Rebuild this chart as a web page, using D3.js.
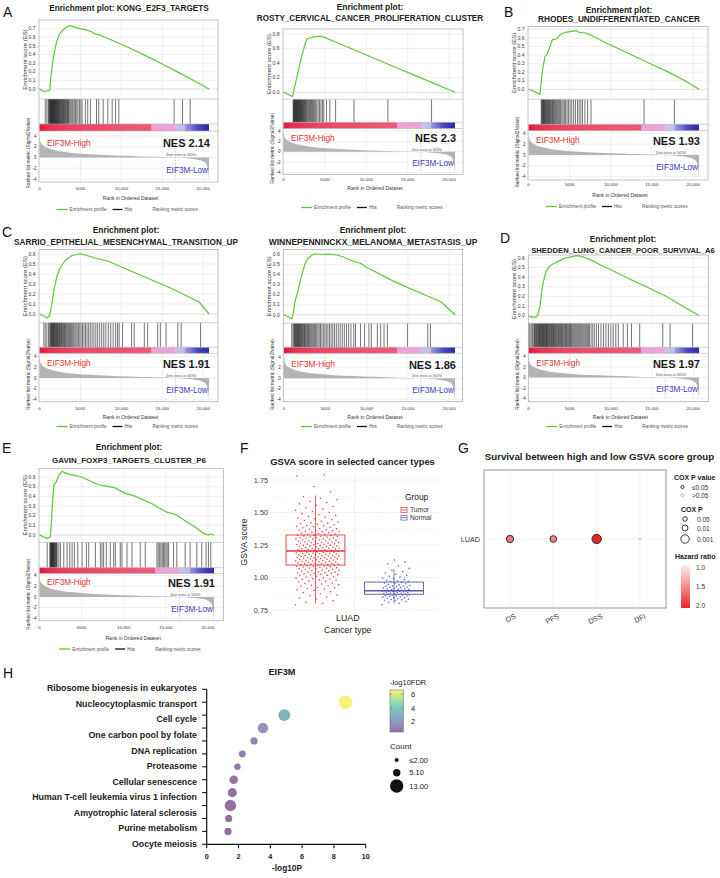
<!DOCTYPE html>
<html><head><meta charset="utf-8">
<script src="https://cdn.jsdelivr.net/npm/d3@7"></script>
<style>
html,body{margin:0;padding:0;background:#fff;}
svg{display:block;font-family:"Liberation Sans",Arial,Helvetica,sans-serif;}
</style></head><body>
<svg id="fig" width="720" height="878"></svg>
<script>
// ===================== DATA =====================
const N_GENES = 20700;
const ZERO_CROSS = 16590;
const metricRanks  = [0, 50, 150, 400, 800, 1500, 2500, 4000, 6000, 8500, 11000, 14000, 16590, 18000, 19300, 20000, 20400, 20600, 20700];
const metricValues = [4.3, 3.4, 2.8, 2.3, 1.9, 1.5, 1.15, 0.85, 0.6, 0.42, 0.28, 0.12, 0, -0.15, -0.4, -0.7, -1.3, -2.5, -4.3];
const barFractions = [0, 0.06, 0.2, 0.66, 0.661, 0.8, 0.801, 0.86, 0.861, 0.9, 0.93, 1];
const barColors = ["#e3163a", "#e73150", "#ea4566", "#ef5a78", "#eea0d6", "#eaa6dc", "#ccc4ec", "#c0bae8", "#9a96e0", "#7070d0", "#4a4ac0", "#2a2aa8"];
const xTickValues = [0, 5000, 10000, 15000, 20000];
const xTickLabels = ["0", "5000", "10,000", "15,000", "20,000"];
const metricTicks = [4, 2, 0, -2, -4];

const gseaNames = ["KONG_E2F3_TARGETS", "ROSTY_CERVICAL_CANCER_PROLIFERATION_CLUSTER", "RHODES_UNDIFFERENTIATED_CANCER",
  "SARRIO_EPITHELIAL_MESENCHYMAL_TRANSITION_UP", "WINNEPENNINCKX_MELANOMA_METASTASIS_UP", "SHEDDEN_LUNG_CANCER_POOR_SURVIVAL_A6",
  "GAVIN_FOXP3_TARGETS_CLUSTER_P6"];
const gseaNES = ["2.14", "2.3", "1.93", "1.91", "1.86", "1.97", "1.91"];
const esTickMax = [0.7, 0.8, 0.7, 0.6, 0.6, 0.6, 0.6];
const esTickStep = [0.1, 0.2, 0.1, 0.1, 0.1, 0.1, 0.1];

const esKONG = [[0,0],[500,-0.03],[1000,-0.02],[1250,-0.015],[1400,0.15],[1600,0.3],[1800,0.42],[2100,0.55],[2400,0.63],[2800,0.68],[3200,0.71],[3600,0.735],[4000,0.73],[4500,0.71],[5000,0.70],[5600,0.69],[6200,0.67],[6800,0.64],[7400,0.625],[8000,0.6],[9000,0.56],[10000,0.52],[11000,0.475],[13000,0.385],[15000,0.29],[17000,0.19],[19000,0.09],[20700,0]];
const esROSTY = [[0,0],[600,-0.03],[1100,-0.06],[1300,0.05],[1600,0.2],[1900,0.35],[2200,0.5],[2500,0.62],[2800,0.73],[3200,0.745],[3700,0.76],[4200,0.77],[4800,0.76],[6000,0.703],[8000,0.607],[10000,0.511],[12000,0.416],[14000,0.32],[16000,0.225],[18000,0.13],[20700,0]];
const esRHODES = [[0,0],[800,-0.03],[1400,-0.06],[1500,0.05],[1700,0.22],[2000,0.38],[2300,0.42],[2600,0.5],[2900,0.58],[3400,0.59],[3900,0.64],[4500,0.665],[5200,0.675],[5800,0.685],[6100,0.665],[6600,0.66],[7000,0.655],[7600,0.63],[9000,0.56],[11000,0.47],[13000,0.38],[15000,0.29],[17000,0.2],[19000,0.1],[20700,0]];
const esSARRIO = [[0,0],[500,-0.02],[900,-0.04],[1200,-0.02],[1400,0.05],[1600,0.15],[1800,0.25],[2100,0.37],[2500,0.46],[3000,0.52],[3500,0.56],[4000,0.585],[4800,0.6],[5200,0.598],[6000,0.58],[7000,0.555],[7800,0.54],[8500,0.525],[10000,0.47],[12000,0.4],[14000,0.33],[16000,0.26],[18000,0.18],[19500,0.12],[20700,0]];
const esWINNE = [[0,0],[500,-0.02],[950,-0.04],[1100,0],[1300,0.12],[1500,0.18],[1750,0.25],[2000,0.35],[2300,0.44],[2600,0.52],[2900,0.56],[3300,0.59],[3700,0.607],[4500,0.6],[5500,0.603],[6400,0.595],[7200,0.575],[8000,0.545],[9300,0.51],[10000,0.47],[11000,0.43],[13000,0.345],[15000,0.27],[17000,0.2],[19000,0.13],[20700,0]];
const esSHEDDEN = [[0,-0.01],[600,-0.02],[1000,-0.015],[1200,0.02],[1400,0.1],[1600,0.25],[1800,0.35],[2100,0.45],[2500,0.51],[3000,0.54],[3500,0.56],[4000,0.58],[4500,0.6],[5000,0.61],[5800,0.625],[6300,0.62],[7000,0.6],[7800,0.57],[8700,0.53],[10300,0.465],[12300,0.38],[14300,0.3],[16700,0.2],[18700,0.1],[20700,0]];
const esGAVIN = [[0,0],[500,-0.02],[900,-0.035],[1300,-0.02],[1450,0.2],[1550,0.35],[1700,0.52],[2000,0.55],[2300,0.62],[2700,0.66],[3000,0.645],[3400,0.63],[4000,0.62],[5000,0.6],[5500,0.58],[6200,0.55],[7000,0.52],[7500,0.51],[8900,0.49],[10200,0.43],[11400,0.4],[13400,0.32],[15000,0.24],[16200,0.21],[17400,0.14],[18500,0.08],[19400,0.02],[20000,0],[20300,0.01],[20700,0]];

const hitsKONG = [700,900,1080,1150,1220,1300,1340,1390,1450,1500,1540,1600,1650,1690,1740,1800,1850,1900,1960,2010,2080,2130,2200,2260,2310,2380,2450,2520,2590,2650,2730,2800,2880,2950,3020,3100,3190,3260,3350,3430,3520,3600,3720,3850,3980,4100,4250,4400,4550,4700,4880,5050,5200,5600,5890,6220,6960,7240,7780,8340,8880,9290,9690,16440,17470,18400];
const hitsROSTY = [1160,1220,1280,1330,1390,1440,1500,1560,1610,1670,1720,1780,1840,1900,1950,2010,2070,2130,2190,2250,2320,2380,2450,2520,2600,2680,2760,2850,2950,3050,3150,3260,3380,3500,3620,3750,3880,4020,4180,4350,4520,4700,4860,5180,5590,6290,8510,12600,17870];
const hitsRHODES = [1550,1620,1680,1750,1820,1880,1950,2020,2100,2170,2250,2330,2400,2480,2560,2650,2740,2830,2920,3010,3100,3200,3300,3420,3540,3660,3780,3900,4050,4200,4350,4500,4680,4850,5050,5250,5480,5700,5950,6150,6360,6560,6850,7180,7590,14030,17710];
const hitsSARRIO = [530,700,900,1100,1250,1330,1400,1470,1540,1600,1660,1720,1790,1850,1920,1990,2060,2130,2200,2280,2360,2440,2520,2600,2690,2780,2870,2960,3050,3150,3250,3350,3460,3570,3680,3800,3920,4050,4180,4320,4460,4600,4760,4920,5080,5250,5430,5620,5800,6000,6200,6420,6650,6880,7100,7350,7600,7850,8100,8400,8700,9000,9300,9530,9730,10150,11250,11570,12800,13210,14440,14760,15460,16890,17300,19670];
const hitsWINNE = [940,1100,1200,1280,1350,1420,1490,1560,1630,1700,1770,1840,1910,1980,2060,2140,2220,2300,2390,2480,2570,2660,2760,2860,2960,3070,3180,3300,3420,3550,3680,3820,3960,4110,4260,4420,4590,4760,4940,5120,5310,5500,5700,5900,6110,6330,6560,6800,7050,7300,7560,7820,8100,8450,8660,9270,9760,10280,10570,11300,11700,12110,12520,14960,17400,17720];
const hitsSHEDDEN = [40,180,330,480,640,720,800,880,960,1040,1120,1200,1270,1340,1410,1480,1550,1620,1690,1760,1830,1900,1970,2040,2110,2180,2250,2320,2400,2480,2560,2640,2720,2800,2880,2960,3040,3120,3200,3290,3380,3470,3560,3650,3740,3830,3920,4010,4100,4200,4300,4400,4500,4600,4700,4800,4900,5000,5100,5200,5300,5420,5540,5660,5780,5900,6020,6140,6260,6380,6500,6620,6750,6880,7010,7140,7270,7400,7600,7800,8000,8250,8500,8800,9100,9400,9700,10000,10280,10600,10900,11500,12000,12500,13500,16300,17190,19920];
const hitsGAVIN = [910,1220,1300,1350,1400,1450,1500,1550,1600,1650,1700,1760,1820,1880,1950,2020,2090,2290,2480,2880,3270,3590,3870,4140,4540,5050,5560,5840,6630,7220,7420,7610,7930,8400,8800,9000,9580,9780,10380,10970,11950,12550,13930,14080,14250,14400,14560,14700,14850,15000,15150,15310,15900,16290,17280,17870,18660,19250,19760,20040,20320];

const esCurves = [esKONG, esROSTY, esRHODES, esSARRIO, esWINNE, esSHEDDEN, esGAVIN];
const hitLists = [hitsKONG, hitsROSTY, hitsRHODES, hitsSARRIO, hitsWINNE, hitsSHEDDEN, hitsGAVIN];

// Panel F
const fGroups = ["Tumor", "Normal"];
const fCategory = "LUAD";
const fYTicks = [0.75, 1.00, 1.25, 1.50, 1.75];
const tumorBox = [0.80, 1.096, 1.204, 1.327, 1.63];
const normalBox = [0.80, 0.871, 0.899, 0.965, 1.063];
const tumorScores = [0.79,0.80,0.81,0.82,0.835,0.84,0.85,0.86,0.865,0.875,0.885,0.89,0.90,0.905,0.91,0.915,0.92,0.925,
0.932,0.936,0.94,0.945,0.95,0.953,0.957,0.96,0.965,0.97,0.974,0.978,
0.982,0.985,0.988,0.991,0.995,0.998,1.002,1.006,1.01,1.013,1.016,1.019,1.022,1.025,1.028,
1.031,1.033,1.036,1.038,1.041,1.043,1.046,1.048,1.051,1.053,1.056,1.058,1.061,1.063,1.066,1.068,1.071,1.073,1.076,1.078,
1.081,1.083,1.085,1.087,1.089,1.091,1.093,1.095,1.097,1.099,1.101,1.103,1.105,1.107,1.109,1.111,1.113,1.115,1.117,1.119,1.121,1.123,1.125,1.127,1.129,
1.131,1.133,1.135,1.136,1.138,1.140,1.142,1.143,1.145,1.147,1.149,1.150,1.152,1.154,1.156,1.157,1.159,1.161,1.163,1.164,1.166,1.168,1.170,1.171,1.173,1.175,1.177,1.179,
1.181,1.183,1.185,1.186,1.188,1.190,1.192,1.193,1.195,1.197,1.199,1.200,1.202,1.204,1.206,1.207,1.209,1.211,1.213,1.214,1.216,1.218,1.220,1.221,1.223,1.225,1.227,1.229,
1.231,1.233,1.235,1.237,1.239,1.241,1.243,1.245,1.247,1.249,1.251,1.253,1.255,1.257,1.259,1.261,1.263,1.265,1.267,1.269,1.271,1.273,1.275,1.277,1.279,
1.281,1.283,1.286,1.288,1.290,1.292,1.295,1.297,1.299,1.302,1.304,1.306,1.308,1.311,1.313,1.315,1.317,1.320,1.322,1.324,1.326,1.329,
1.332,1.335,1.338,1.341,1.344,1.347,1.350,1.353,1.356,1.359,1.362,1.365,1.368,1.371,1.374,1.377,
1.382,1.386,1.390,1.394,1.398,1.402,1.406,1.410,1.414,1.418,1.422,1.427,
1.433,1.439,1.445,1.451,1.457,1.463,1.469,1.476,1.485,1.493,1.501,1.509,1.517,1.526,
1.536,1.546,1.556,1.566,1.576,1.587,1.598,1.609,1.621,1.66,1.70,1.78,1.79];
const normalScores = [0.79,0.80,0.81,0.815,
0.822,0.825,0.828,0.831,0.834,0.837,0.840,0.843,0.846,0.849,0.852,0.855,0.857,0.859,
0.861,0.863,0.865,0.867,0.869,0.871,0.873,0.875,0.877,0.879,0.881,0.883,0.885,0.887,0.889,0.891,0.893,0.894,0.895,0.896,0.898,0.899,
0.902,0.905,0.907,0.910,0.912,0.915,0.917,0.920,0.922,0.925,0.927,0.930,0.932,0.935,0.937,0.939,
0.943,0.947,0.951,0.955,0.959,0.963,0.967,0.971,0.975,0.979,
0.984,0.990,0.996,1.003,1.009,1.016,1.025,1.035,1.045,1.055,1.07,1.09,1.105,1.12,1.135];

// Panel G
const gEndpoints = ["OS", "PFS", "DSS", "DFI"];
const gCancer = ["LUAD"];
const gHazard = [1.6, 1.55, 2.0, 1.15];
const gCoxP = [0.003, 0.005, 0.0004, 0.5];
const gSizeLegend = [0.05, 0.01, 0.001];
const gHazardTicks = [1.0, 1.5, 2.0];

// Panel H
const hPathways = ["Ribosome biogenesis in eukaryotes","Nucleocytoplasmic transport","Cell cycle","One carbon pool by folate","DNA replication","Proteasome","Cellular senescence","Human T-cell leukemia virus 1 infection","Amyotrophic lateral sclerosis","Purine metabolism","Oocyte meiosis"];
const hLogP = [8.74, 4.88, 3.54, 2.98, 2.24, 1.93, 1.70, 1.61, 1.49, 1.38, 1.34];
const hLogFDR = [6.5, 3.0, 1.7, 1.3, 1.05, 0.95, 0.75, 0.72, 0.68, 0.62, 0.6];
const hCount = [13, 11, 9, 5, 4.6, 4.2, 6.7, 7.3, 10.4, 5, 5];
const hXTicks = [0, 2, 4, 6, 8, 10];
const hColorTicks = [6, 4, 2];
const hCountLegend = [2, 5.1, 13];
const hCountLabels = ["\u22642.00", "5.10", "13.00"];

// ===================== LAYOUT =====================
const gseaLayout = [
 {left:39, right:218, top:20, cx:129, ty:[10.5], tw:160, esTop:28.7, es0:89, sep1:99, barTop:124, barBot:131, mTop:136, mBot:179, bottom:182, tickY:190, axY:200, legY:211, x0:39.5, xEnd:209},
 {left:283, right:463, top:29, cx:370, ty:[10,20.5], tw:227, esTop:34, es0:92.3, sep1:99.3, barTop:122.3, barBot:128.5, mTop:131, mBot:172.7, bottom:174.5, tickY:180.5, axY:190, legY:209, x0:283.5, xEnd:455},
 {left:528, right:708, top:26.5, cx:619, ty:[12.5,22], tw:162, esTop:29.3, es0:89.3, sep1:99.3, barTop:124.3, barBot:130.7, mTop:133.3, mBot:176.7, bottom:180, tickY:185.5, axY:196.5, legY:208, x0:528.5, xEnd:699},
 {left:39, right:218, top:249.5, cx:126, ty:[233,245], tw:224, esTop:254, es0:314, sep1:322.7, barTop:347.3, barBot:353.3, mTop:356.7, mBot:399.3, bottom:401.7, tickY:409.5, axY:418.5, legY:428, x0:39.5, xEnd:209},
 {left:283.3, right:462.7, top:249.5, cx:373, ty:[233,245], tw:209, esTop:254.5, es0:314.8, sep1:323.3, barTop:347.3, barBot:353.3, mTop:357.3, mBot:399.3, bottom:401.7, tickY:409.5, axY:418.5, legY:428, x0:284, xEnd:455},
 {left:528.3, right:708.3, top:255, cx:623, ty:[241.5,253], tw:184, esTop:258, es0:315.5, sep1:323.3, barTop:347.3, barBot:353.3, mTop:356.7, mBot:398.3, bottom:401.7, tickY:409.5, axY:419, legY:428, x0:528.5, xEnd:699},
 {left:39, right:223.3, top:468.3, cx:129, ty:[450,463], tw:154, esTop:477, es0:535, sep1:542.3, barTop:567.7, barBot:573.5, mTop:575.5, mBot:618.3, bottom:620.7, tickY:628.5, axY:639.5, legY:650.5, x0:39.5, xEnd:214}
];

const svg = d3.select("#fig");
svg.append("rect").attr("width", 720).attr("height", 878).attr("fill", "#fff");
const defs = svg.append("defs");

function T(g, x, y, s, size, o = {}) {
  const t = g.append("text").attr("x", x).attr("y", y).text(s)
    .attr("font-size", size).attr("fill", o.fill || "#222")
    .attr("text-anchor", o.anchor || "start")
    .attr("font-weight", o.weight || "normal");
  if (o.rotate) t.attr("transform", `rotate(${o.rotate},${x},${y})`);
  return t;
}
// scale a text's font size so that its rendered width matches a target width
function fitWidth(t, target) {
  const w = t.node().getComputedTextLength();
  if (w > 0) t.attr("font-size", (+t.attr("font-size")) * target / w);
  return t;
}

// panel letters
[["A",3,17],["B",504,17],["C",2,237],["D",500,243],["E",2,453],["F",240,453],["G",458,453],["H",3,678]]
  .forEach(([s,x,y]) => T(svg, x, y, s, 14, {fill:"#111"}));

// ===================== GSEA PANELS =====================
function drawGSEA(i) {
  const L = gseaLayout[i];
  const g = svg.append("g");
  const x = d3.scaleLinear().domain([0, N_GENES]).range([L.x0, L.xEnd]);
  const yE = d3.scaleLinear().domain([0, esTickMax[i]]).range([L.es0, L.esTop]);
  const yM = d3.scaleLinear().domain([-4, 4]).range([L.mBot, L.mTop]);
  const name = gseaNames[i];
  if (L.ty.length === 1) {
    fitWidth(T(g, L.cx, L.ty[0], "Enrichment plot: " + name, 8, {anchor:"middle", weight:"bold"}), L.tw);
  } else {
    T(g, L.cx, L.ty[0], "Enrichment plot:", 8.4, {anchor:"middle", weight:"bold"});
    fitWidth(T(g, L.cx, L.ty[1], name, 8, {anchor:"middle", weight:"bold"}), L.tw);
  }
  g.append("rect").attr("x", L.left).attr("y", L.top).attr("width", L.right - L.left)
    .attr("height", L.bottom - L.top).attr("fill", "#fff");
  const grid = "#e6e6e6";
  const esTicks = d3.range(0, esTickMax[i] + 1e-9, esTickStep[i]);
  g.selectAll(null).data(xTickValues.slice(1)).join("line")
    .attr("x1", d => x(d)).attr("x2", d => x(d)).attr("y1", L.top).attr("y2", L.sep1)
    .attr("stroke", grid).attr("stroke-width", 0.6);
  g.selectAll(null).data(esTicks).join("line")
    .attr("x1", L.left).attr("x2", L.right).attr("y1", d => yE(d)).attr("y2", d => yE(d))
    .attr("stroke", d => d === 0 ? "#c8c8c8" : grid).attr("stroke-width", 0.6);
  g.selectAll(null).data(xTickValues.slice(1)).join("line")
    .attr("x1", d => x(d)).attr("x2", d => x(d)).attr("y1", L.barBot).attr("y2", L.bottom)
    .attr("stroke", grid).attr("stroke-width", 0.6);
  g.selectAll(null).data(metricTicks).join("line")
    .attr("x1", L.left).attr("x2", L.right).attr("y1", d => yM(d)).attr("y2", d => yM(d))
    .attr("stroke", grid).attr("stroke-width", 0.6);
  const mPts = metricRanks.map((r, k) => [r, metricValues[k]]);
  g.append("path").datum(mPts)
    .attr("d", d3.area().x(d => x(d[0])).y0(yM(0)).y1(d => yM(Math.max(-4.2, Math.min(4.2, d[1])))).curve(d3.curveMonotoneX))
    .attr("fill", "#b4b4b4");
  g.append("line").attr("x1", x(ZERO_CROSS)).attr("x2", x(ZERO_CROSS)).attr("y1", L.mTop + 6).attr("y2", L.mBot)
    .attr("stroke", "#999").attr("stroke-width", 0.5).attr("stroke-dasharray", "1.5,1.5");
  T(g, x(ZERO_CROSS + 700), yM(0) - 1.3, "Zero cross at " + ZERO_CROSS, 3.4, {anchor:"middle", fill:"#555"});
  g.selectAll(null).data(hitLists[i]).join("line")
    .attr("x1", d => x(d)).attr("x2", d => x(d)).attr("y1", L.sep1).attr("y2", L.barTop)
    .attr("stroke", "#000").attr("stroke-width", 0.75).attr("stroke-opacity", 0.72);
  const gid = "gseabar" + i;
  const lg = defs.append("linearGradient").attr("id", gid).attr("gradientUnits", "userSpaceOnUse")
    .attr("x1", L.x0).attr("x2", L.xEnd).attr("y1", 0).attr("y2", 0);
  barFractions.forEach((f, k) => lg.append("stop").attr("offset", f).attr("stop-color", barColors[k]));
  g.append("rect").attr("x", L.x0).attr("y", L.barTop).attr("width", L.xEnd - L.x0)
    .attr("height", L.barBot - L.barTop).attr("fill", `url(#${gid})`);
  [L.sep1, L.barTop, L.barBot].forEach(yy => g.append("line").attr("x1", L.left).attr("x2", L.right)
    .attr("y1", yy).attr("y2", yy).attr("stroke", "#b0b0b0").attr("stroke-width", 0.6));
  g.append("path").datum(esCurves[i])
    .attr("d", d3.line().x(d => x(d[0])).y(d => yE(d[1])))
    .attr("fill", "none").attr("stroke", "#5ec832").attr("stroke-width", 1.2).attr("stroke-linejoin", "round");
  g.append("rect").attr("x", L.left).attr("y", L.top).attr("width", L.right - L.left)
    .attr("height", L.bottom - L.top).attr("fill", "none").attr("stroke", "#a8a8a8").attr("stroke-width", 0.7);
  T(g, L.left + 8, L.mTop + 9.5, "EIF3M-High", 8.2, {fill:"#dc3232"});
  T(g, L.xEnd + 1, L.mTop + 11.3, "NES " + gseaNES[i], 11, {anchor:"end", weight:"bold", fill:"#1a1a1a"});
  T(g, L.xEnd - 1, L.mBot - 6.5, "EIF3M-Low", 8.2, {anchor:"end", fill:"#3c3cb4"});
  const fmt = d3.format(".1f");
  esTicks.forEach(v => T(g, L.left - 3.5, yE(v) + 1.7, fmt(v), 5, {anchor:"end", fill:"#333"}));
  metricTicks.forEach(v => T(g, L.left - 2.5, yM(v) + 1.6, String(v), 4.6, {anchor:"end", fill:"#333"}));
  xTickValues.forEach((v, k) => T(g, x(v), L.tickY, xTickLabels[k], 4.4, {anchor:"middle", fill:"#333"}));
  const esMid = (L.top + L.sep1) / 2;
  T(g, L.left - 12, esMid, "Enrichment score (ES)", 6, {anchor:"middle", rotate:-90, fill:"#333"});
  const mMid = (L.barTop + L.bottom) / 2;
  T(g, L.left - 9, mMid, "Ranked list metric (Signal2Noise)", 4.8, {anchor:"middle", rotate:-90, fill:"#333"});
  const cx = (L.left + L.right) / 2;
  T(g, cx + 2, L.axY, "Rank in Ordered Dataset", 5, {anchor:"middle", fill:"#333"});
  g.append("line").attr("x1", cx - 72).attr("x2", cx - 61).attr("y1", L.legY - 1.5).attr("y2", L.legY - 1.5)
    .attr("stroke", "#5ec832").attr("stroke-width", 1.3);
  T(g, cx - 59, L.legY, "Enrichment profile", 4.6, {fill:"#555"});
  g.append("line").attr("x1", cx - 16).attr("x2", cx - 6).attr("y1", L.legY - 1.5).attr("y2", L.legY - 1.5)
    .attr("stroke", "#111").attr("stroke-width", 1.3);
  T(g, cx - 4, L.legY, "Hits", 4.6, {fill:"#555"});
  T(g, cx + 24, L.legY, "Ranking metric scores", 4.6, {fill:"#555"});
}
for (let i = 0; i < 7; i++) drawGSEA(i);

// ===================== PANEL F =====================
(function () {
  const g = svg.append("g");
  const pl = 272, pr = 440, pt = 474, pb = 614;
  const y = d3.scaleLinear().domain([0.75, 1.75]).range([610, 480]);
  const fx = d3.scaleBand().domain(fGroups).range([276.25, 433.25]);
  const bw = fx.bandwidth();
  fitWidth(T(g, 352.5, 464.5, "GSVA score in selected cancer types", 9, {anchor:"middle", weight:"bold"}), 165);
  const minor = d3.range(0.875, 1.75, 0.25);
  g.selectAll(null).data(minor).join("line").attr("x1", pl).attr("x2", pr)
    .attr("y1", d => y(d)).attr("y2", d => y(d)).attr("stroke", "#e8e8e8").attr("stroke-width", 0.5).attr("stroke-dasharray", "1.5,1.5");
  g.selectAll(null).data(fYTicks).join("line").attr("x1", pl).attr("x2", pr)
    .attr("y1", d => y(d)).attr("y2", d => y(d)).attr("stroke", "#d6d6d6").attr("stroke-width", 0.6).attr("stroke-dasharray", "1.5,1.5");
  const catX = fx.range()[0] + bw;
  g.append("line").attr("x1", catX).attr("x2", catX).attr("y1", pt).attr("y2", pb)
    .attr("stroke", "#d6d6d6").attr("stroke-width", 0.6).attr("stroke-dasharray", "1.5,1.5");
  fYTicks.forEach(v => T(g, 268, y(v) + 2.5, d3.format(".2f")(v), 7.3, {anchor:"end", fill:"#444"}));
  T(g, 247, 542, "GSVA score", 8.8, {anchor:"middle", rotate:-90, fill:"#222"});
  T(g, catX - 7, 621, fCategory, 8.8, {anchor:"middle", fill:"#222"});
  T(g, catX - 7, 632.5, "Cancer type", 8.8, {anchor:"middle", fill:"#222"});
  const cols = {Tumor: "#e0393b", Normal: "#5a5a9e"};
  const ptCols = {Tumor: "#e8262a", Normal: "#4646c8"};
  const boxes = {Tumor: tumorBox, Normal: normalBox};
  const scores = {Tumor: tumorScores, Normal: normalScores};
  const jw = {Tumor: 44, Normal: 28};
  fGroups.forEach(grp => {
    const c = fx(grp) + bw / 2;
    const b = boxes[grp];
    const hw = bw * 0.375;
    g.append("line").attr("x1", c).attr("x2", c).attr("y1", y(b[0])).attr("y2", y(b[4]))
      .attr("stroke", cols[grp]).attr("stroke-width", 0.8);
    g.append("rect").attr("x", c - hw).attr("y", y(b[3])).attr("width", 2 * hw).attr("height", y(b[1]) - y(b[3]))
      .attr("fill", "none").attr("stroke", cols[grp]).attr("stroke-width", 0.9);
    g.append("line").attr("x1", c - hw).attr("x2", c + hw).attr("y1", y(b[2])).attr("y2", y(b[2]))
      .attr("stroke", cols[grp]).attr("stroke-width", 1.5);
    g.selectAll(null).data(scores[grp]).join("circle")
      .attr("cx", (d, k) => c + 2 + (((k * 0.6180339887) % 1) - 0.5) * jw[grp])
      .attr("cy", d => y(d)).attr("r", 0.8).attr("fill", ptCols[grp]).attr("fill-opacity", 0.85);
  });
  T(g, 405, 500, "Group", 8.4, {fill:"#222"});
  fGroups.forEach((grp, k) => {
    const yy = 510 + k * 7.7;
    g.append("rect").attr("x", 401).attr("y", yy - 2.4).attr("width", 6).attr("height", 4.8)
      .attr("fill", "none").attr("stroke", cols[grp]).attr("stroke-width", 0.7);
    g.append("line").attr("x1", 401).attr("x2", 407).attr("y1", yy).attr("y2", yy).attr("stroke", cols[grp]).attr("stroke-width", 0.7);
    T(g, 410, yy + 2.4, grp, 6.7, {fill:"#333"});
  });
})();

// ===================== PANEL G =====================
(function () {
  const g = svg.append("g");
  const fl = 484, fr = 666, ft = 470, fb = 608;
  fitWidth(T(g, 599.5, 460, "Survival between high and low GSVA score group", 9.5, {anchor:"middle", weight:"bold"}), 230);
  const x = d3.scalePoint().domain(gEndpoints).range([510, 640]);
  const y = d3.scaleBand().domain(gCancer).range([ft, fb]);
  const yc = y("LUAD") + y.bandwidth() / 2;
  const hz = d3.scaleLinear().domain([1, 2]).range(["#fdf0f0", "#e8262a"]).interpolate(d3.interpolateRgb);
  const rs = d3.scaleLinear().domain([1.3, 2, 3]).range([2.3, 3.0, 4.2]);
  g.append("rect").attr("x", fl).attr("y", ft).attr("width", fr - fl).attr("height", fb - ft).attr("fill", "#fff");
  gEndpoints.forEach(e => g.append("line").attr("x1", x(e)).attr("x2", x(e)).attr("y1", ft).attr("y2", fb)
    .attr("stroke", "#dcdcdc").attr("stroke-width", 0.6).attr("stroke-dasharray", "2,2"));
  g.append("line").attr("x1", fl).attr("x2", fr).attr("y1", yc).attr("y2", yc)
    .attr("stroke", "#dcdcdc").attr("stroke-width", 0.6).attr("stroke-dasharray", "2,2");
  g.append("rect").attr("x", fl).attr("y", ft).attr("width", fr - fl).attr("height", fb - ft)
    .attr("fill", "none").attr("stroke", "#8a8a8a").attr("stroke-width", 0.9);
  gEndpoints.forEach((e, k) => {
    const sig = gCoxP[k] <= 0.05;
    g.append("circle").attr("cx", x(e)).attr("cy", yc)
      .attr("r", sig ? rs(-Math.log10(gCoxP[k])) : 1.3)
      .attr("fill", hz(gHazard[k])).attr("fill-opacity", sig ? 1 : 0.8)
      .attr("stroke", sig ? "#222" : "#c8b0b0").attr("stroke-width", sig ? 0.9 : 0.4);
    g.append("text").attr("transform", `translate(${x(e) + 4},${613}) rotate(-25)`)
      .attr("text-anchor", "end").attr("dominant-baseline", "hanging").attr("font-size", 7.2).attr("fill", "#333").text(e);
  });
  T(g, 480, yc + 2.5, "LUAD", 7.2, {anchor:"end", fill:"#333"});
  T(g, 674, 480, "COX P value", 7, {weight:"bold", fill:"#222"});
  g.append("circle").attr("cx", 682.5).attr("cy", 487).attr("r", 1.6).attr("fill", "none").attr("stroke", "#222").attr("stroke-width", 0.9);
  T(g, 692, 489.5, "\u22640.05", 6.5, {fill:"#333"});
  g.append("circle").attr("cx", 682.5).attr("cy", 495).attr("r", 1.6).attr("fill", "none").attr("stroke", "#bbb").attr("stroke-width", 0.9);
  T(g, 692, 497.5, ">0.05", 6.5, {fill:"#333"});
  T(g, 681, 511.5, "COX P", 7, {weight:"bold", fill:"#222"});
  const ly = [519, 528, 539];
  gSizeLegend.forEach((p, k) => {
    g.append("circle").attr("cx", 685).attr("cy", ly[k]).attr("r", rs(-Math.log10(p))).attr("fill", "none").attr("stroke", "#222").attr("stroke-width", 0.9);
    T(g, 697, ly[k] + 2.5, String(p), 6.5, {fill:"#333"});
  });
  T(g, 675, 558.5, "Hazard ratio", 7, {weight:"bold", fill:"#222"});
  const hg = defs.append("linearGradient").attr("id", "hzgrad").attr("x1", 0).attr("x2", 0).attr("y1", 0).attr("y2", 1);
  hg.append("stop").attr("offset", 0).attr("stop-color", hz(1));
  hg.append("stop").attr("offset", 1).attr("stop-color", hz(2));
  g.append("rect").attr("x", 681).attr("y", 565).attr("width", 9).attr("height", 43).attr("fill", "url(#hzgrad)");
  const hy = d3.scaleLinear().domain([1, 2]).range([567, 605]);
  gHazardTicks.forEach(v => T(g, 696, hy(v) + 2.5, d3.format(".1f")(v), 6.5, {fill:"#333"}));
})();

// ===================== PANEL H =====================
(function () {
  const g = svg.append("g");
  const x = d3.scaleLinear().domain([0, 10]).range([206.7, 365.7]);
  const yTick = d3.scaleLinear().domain([0, 12]).range([689.3, 844.3]);
  const yLab = d3.scalePoint().domain(hPathways).range([688.3, 844]);
  const col = d3.scaleSequential(d3.interpolateViridis).domain([0.5, 6.6]);
  const rs = d3.scaleLinear().domain(hCountLegend).range([2, 3.7, 6.7]);
  T(g, 282, 675, "EIF3M", 9.2, {anchor:"middle", weight:"bold"});
  g.append("line").attr("x1", x(0)).attr("x2", x(0)).attr("y1", yTick(0)).attr("y2", yTick(12)).attr("stroke", "#111").attr("stroke-width", 1.2);
  g.append("line").attr("x1", x(0)).attr("x2", x(10)).attr("y1", yTick(12)).attr("y2", yTick(12)).attr("stroke", "#111").attr("stroke-width", 1.2);
  d3.range(0, 13).forEach(k => g.append("line").attr("x1", x(0) - 4.5).attr("x2", x(0)).attr("y1", yTick(k)).attr("y2", yTick(k)).attr("stroke", "#111").attr("stroke-width", 1.1));
  hXTicks.forEach(v => {
    g.append("line").attr("x1", x(v)).attr("x2", x(v)).attr("y1", yTick(12)).attr("y2", yTick(12) + 4).attr("stroke", "#111").attr("stroke-width", 1.1);
    T(g, x(v), 859, String(v), 7.3, {anchor:"middle", weight:"bold"});
  });
  T(g, 287, 871, "-log10P", 8.3, {anchor:"middle", weight:"bold"});
  hPathways.forEach(p => T(g, 197, yLab(p) + 3, p, 8.8, {anchor:"end", weight:"bold"}));
  hPathways.forEach((p, k) => {
    g.append("circle").attr("cx", x(hLogP[k])).attr("cy", yTick(k + 1)).attr("r", rs(hCount[k]))
      .attr("fill", col(hLogFDR[k])).attr("fill-opacity", 0.58);
  });
  T(g, 390, 684.5, "-log10FDR", 7.5, {fill:"#222"});
  const cg = defs.append("linearGradient").attr("id", "fdrgrad").attr("x1", 0).attr("x2", 0).attr("y1", 1).attr("y2", 0);
  d3.range(0, 1.0001, 0.1).forEach(f => cg.append("stop").attr("offset", f).attr("stop-color", d3.interpolateViridis(f)));
  g.append("rect").attr("x", 390).attr("y", 690).attr("width", 13.3).attr("height", 42).attr("fill", "url(#fdrgrad)").attr("fill-opacity", 0.58)
    .attr("stroke", "#777").attr("stroke-width", 0.6);
  const cy = d3.scaleLinear().domain([0.5, 6.6]).range([732, 690]);
  hColorTicks.forEach(v => {
    g.append("line").attr("x1", 401).attr("x2", 403.3).attr("y1", cy(v)).attr("y2", cy(v)).attr("stroke", "#666").attr("stroke-width", 0.5);
    g.append("line").attr("x1", 390).attr("x2", 392.3).attr("y1", cy(v)).attr("y2", cy(v)).attr("stroke", "#666").attr("stroke-width", 0.5);
    T(g, 411, cy(v) + 2.6, String(v), 7.5, {fill:"#222"});
  });
  T(g, 390, 748.5, "Count", 8, {fill:"#222"});
  const cly = [760, 772.7, 786];
  hCountLegend.forEach((c, k) => {
    g.append("circle").attr("cx", 396.7).attr("cy", cly[k]).attr("r", rs(c)).attr("fill", "#111");
    T(g, 409.3, cly[k] + 2.6, hCountLabels[k], 7.5, {fill:"#222"});
  });
})();
</script>
</body></html>
